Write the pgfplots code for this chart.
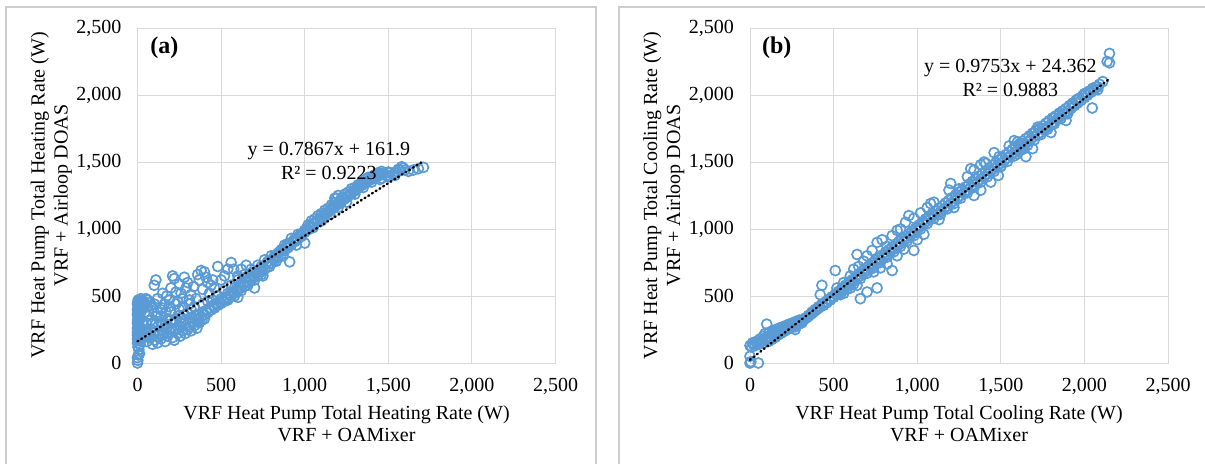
\documentclass[border=0pt]{standalone}
\usepackage{fontspec}
\setmainfont{Liberation Serif}
\usepackage{pgfplots}
\pgfplotsset{compat=1.18}
\definecolor{mk}{RGB}{91,155,213}
\definecolor{gr}{RGB}{217,217,217}
\definecolor{fr}{RGB}{205,205,205}
\pgfplotsset{myax/.style={
 scale only axis, width=209pt, height=167.5pt,
 xmin=0,xmax=2500,ymin=0,ymax=2500,
 xtick={0,500,1000,1500,2000,2500}, ytick={0,500,1000,1500,2000,2500},
 grid=major, major grid style={gr, line width=0.5pt},
 axis line style={gr, line width=0.5pt},
 major tick length=0pt,
 tick label style={font=\fontsize{10}{12}\selectfont},
 /pgf/number format/assume math mode=true,
 /pgf/number format/1000 sep={,},
 scaled ticks=false,
 xticklabel style={yshift=-4pt},
 yticklabel style={xshift=-4.5pt},
 clip=false, clip marker paths=true,
 xlabel style={at={(axis description cs:0.5,-0.182)},anchor=center,align=center,font=\fontsize{10}{11}\selectfont},
 ylabel style={at={(axis description cs:-0.206,0.5)},anchor=center,align=center,font=\fontsize{10}{11.5}\selectfont},
 mks/.style={only marks, mark=o, mark size=2.5pt, mk, line width=0.85pt},
 trend/.style={black, line width=1.2pt, line cap=round, dash pattern=on 0.5pt off 1.7pt},
}}
\begin{document}
\begin{tikzpicture}[x=1pt,y=1pt]
\useasboundingbox (0,0) rectangle (602.5,231.5);
\draw[fr, line width=0.9pt] (3,-5) -- (3,228) -- (298,228) -- (298,-5);
\draw[fr, line width=0.9pt] (309.5,-5) -- (309.5,228) -- (610,228);
\begin{axis}[myax, at={(68.75pt,50pt)}, anchor=south west,
 xlabel={VRF Heat Pump Total Heating Rate (W)\\VRF + OAMixer},
 ylabel={VRF Heat Pump Total Heating Rate (W)\\VRF + Airloop DOAS}]
\addplot[mks] coordinates {
(0,0)(2,20)(5,60)(8,100)(3,120)(12,70)(0,40)(15,140)
(0,180)(0,210)(2,240)(0,260)(4,280)(0,300)(1,320)(3,340)(0,360)(2,380)(0,400)(5,420)(0,440)(3,455)(8,450)(10,430)(6,390)(12,350)(9,310)(14,270)(7,230)(11,200)(16,400)(18,460)(20,380)(15,330)
(25,180)(40,200)(55,160)(70,190)(90,140)(100,170)(110,200)(120,150)(140,180)(150,210)(165,160)(180,200)(195,230)(210,190)(220,170)(240,220)(255,200)(270,240)(285,220)(300,250)(310,270)(320,240)(340,280)(355,260)(370,300)(385,320)(400,330)(60,230)(80,250)(130,240)(160,260)(200,260)(230,250)(260,270)(290,280)(330,300)(360,320)
(30,420)(45,380)(60,470)(75,450)(90,410)(100,580)(110,620)(120,480)(135,400)(150,520)(160,440)(175,500)(190,470)(200,560)(210,650)(220,630)(230,530)(240,460)(250,590)(260,520)(270,480)(280,640)(290,560)(300,600)(310,440)(320,510)(335,570)(350,480)(360,660)(370,620)(380,690)(390,550)(400,680)(410,640)(420,600)(430,520)(440,580)(450,620)(460,560)(480,720)(500,620)(520,650)(540,700)(560,750)(575,700)(600,650)(620,700)(650,730)(140,350)(170,380)(250,400)(280,360)(320,400)(340,420)(390,440)(420,460)(450,470)(180,330)(215,300)(260,340)(300,370)
(20,230)(40,240)(70,215)(100,225)(130,215)(50,300)(80,320)(110,290)(140,300)(170,290)(200,320)(230,310)(260,300)(290,320)(320,340)(350,360)(120,380)(150,410)(190,420)(230,440)(270,420)(310,470)(200,380)(240,350)(110,350)(60,350)(90,300)(150,290)(180,270)(210,240)(30,310)(0,150)(6,170)(4,200)(10,250)(0,230)(2,290)(8,330)(1,370)(6,410)(4,470)(12,440)(25,450)(35,460)(45,440)(60,420)(80,430)(100,440)(50,480)(20,480)
(350,350)(370,360)(390,380)(410,390)(430,410)(450,430)(470,440)(490,460)(510,470)(530,490)(550,510)(570,530)(590,550)(610,570)(630,590)(650,610)(670,630)(690,650)(710,670)(730,690)(750,710)(770,740)(790,760)(810,780)(830,800)(850,830)(870,850)(890,870)(910,890)(930,910)(950,930)(970,950)(990,970)
(360,330)(380,345)(400,360)(420,375)(440,395)(460,410)(480,430)(500,445)(520,460)(540,480)(560,500)(580,520)(600,540)(620,560)(640,575)(660,600)(680,620)(700,640)(720,655)(740,680)(760,700)(780,720)(800,745)(820,765)(840,790)(860,810)(880,840)(900,860)(920,880)(940,905)(960,925)(980,945)
(500,480)(540,520)(580,560)(620,600)(660,640)(700,680)(740,720)(780,760)(820,800)(860,845)(900,890)(940,925)(980,965)
(480,500)(520,540)(560,580)(600,620)(640,660)(680,700)(720,730)(760,770)(800,800)(840,820)(880,880)(920,930)(960,960)(1000,990)(460,420)(540,470)(580,500)(620,540)(660,580)(700,620)(740,660)(790,720)(830,760)(870,800)(910,755)(950,880)(1000,895)(600,490)(700,560)(750,650)
(1010,1000)(1030,1020)(1050,1040)(1070,1060)(1090,1080)(1110,1100)(1130,1120)(1150,1140)(1170,1160)(1190,1180)(1210,1200)(1230,1220)(1250,1240)(1270,1260)(1290,1280)(1310,1300)(1330,1320)(1350,1340)(1370,1350)(1390,1370)(1410,1380)(1430,1390)(1450,1400)
(1000,975)(1020,995)(1040,1020)(1060,1045)(1080,1065)(1100,1085)(1120,1105)(1140,1125)(1160,1150)(1180,1165)(1200,1185)(1220,1205)(1240,1225)(1260,1245)(1280,1265)(1300,1285)(1320,1305)(1340,1325)(1360,1340)(1380,1360)(1400,1370)(1420,1385)(1440,1400)
(1020,1030)(1060,1075)(1100,1115)(1140,1155)(1180,1195)(1220,1235)(1260,1275)(1300,1310)(1340,1350)(1380,1385)(1420,1405)(1460,1415)(1500,1425)(1540,1420)(1560,1445)
(1040,1060)(1080,1100)(1120,1140)(1160,1180)(1180,1230)(1200,1250)(1240,1260)(1280,1300)(1320,1330)(1360,1370)(1400,1390)(1440,1420)(1460,1430)(1050,1010)(1100,1060)(1150,1110)(1200,1160)(1250,1200)(1300,1260)(1350,1310)(1400,1350)(1450,1370)(1190,1230)
(1470,1410)(1490,1400)(1510,1420)(1530,1410)(1550,1430)(1570,1440)(1580,1465)(1590,1455)(1600,1440)(1620,1430)(1650,1440)(1680,1450)(1710,1460)(1460,1380)(1500,1390)(1540,1400)
};
\addplot[trend] coordinates {(0,161.9)(1710,1507.2)};
\node[font=\fontsize{12}{14}\bfseries\selectfont] at (axis cs:160,2350) {(a)};
\node[font=\fontsize{10}{12}\selectfont] at (axis cs:1145,1582) {y = 0.7867x + 161.9};
\node[font=\fontsize{10}{12}\selectfont] at (axis cs:1145,1418) {R² = 0.9223};
\end{axis}
\begin{axis}[myax, at={(375pt,50pt)}, anchor=south west,
 xlabel={VRF Heat Pump Total Cooling Rate (W)\\VRF + OAMixer},
 ylabel={VRF Heat Pump Total Cooling Rate (W)\\VRF + Airloop DOAS}]
\addplot[mks] coordinates {
(0,0)(5,10)(50,0)(0,50)(10,120)(20,140)(40,150)(60,160)(30,130)(80,150)(100,180)(90,220)(110,200)(120,190)(130,210)(100,290)(140,230)(150,200)(160,220)(170,240)(180,230)(190,250)(200,240)(210,260)(220,250)(230,270)(240,260)(250,280)(260,290)(270,270)(280,300)(290,290)(300,310)(310,300)(320,320)(330,330)(340,340)(350,350)(360,360)(370,370)(380,380)(390,390)(400,400)(410,410)(420,420)(270,250)(430,580)(420,510)(440,430)(460,450)(480,470)(500,490)(510,690)(520,510)(540,530)(560,550)(580,570)(600,590)(620,610)(640,630)(660,650)(680,670)(700,690)(720,710)(740,730)(760,750)(780,770)(800,790)(820,810)(840,830)(860,850)(880,870)(900,890)(920,910)(940,930)(960,950)(980,970)(1000,990)
(0,130)(15,150)(35,160)(55,140)(75,170)(95,190)(115,230)(135,240)(155,250)(175,260)(195,270)(215,280)(235,290)(255,300)(275,310)(295,320)(60,180)(80,200)
(110,160)(130,175)(150,190)(170,210)(190,225)(210,240)(230,255)(250,270)(270,285)(290,300)(310,315)(330,335)(350,355)(370,380)(390,400)(410,420)(430,440)(450,455)(470,475)(490,495)(510,515)(530,535)(550,560)(570,580)(590,600)(610,620)(630,640)(650,665)(670,685)(690,705)(710,725)(730,745)(750,765)(770,785)(790,805)(810,825)(830,845)(850,865)(870,885)(890,905)(910,925)(930,945)(950,965)(970,985)(990,1005)
(540,510)(580,550)(620,590)(660,630)(700,670)(740,710)(780,750)(820,790)(860,830)(900,870)(940,910)(980,950)(1020,1000)(1060,1040)(1100,1080)(1140,1110)(1180,1150)(1220,1190)(1260,1230)(1300,1270)(1340,1310)(1380,1350)(1420,1390)(1460,1430)(1500,1465)(1540,1505)(1580,1545)(1620,1590)(1660,1625)(1700,1665)(1740,1705)(1780,1745)(1820,1785)(1860,1825)(1900,1860)
(1010,1030)(1030,1050)(1050,1075)(1070,1095)(1090,1115)(1110,1135)(1130,1155)(1150,1175)(1170,1195)(1190,1215)(1210,1235)(1230,1255)(1250,1275)(1270,1295)(1290,1315)(1310,1335)(1330,1355)(1350,1375)(1370,1395)(1390,1415)(1410,1435)(1430,1455)(1450,1475)(1470,1495)(1490,1515)(1510,1535)(1530,1555)(1550,1575)(1570,1595)(1590,1615)(1610,1635)(1630,1655)(1650,1675)(1670,1695)(1690,1715)(1710,1735)(1730,1750)(1750,1770)(1770,1790)(1790,1810)(1810,1830)(1830,1845)(1850,1865)(1870,1880)(1890,1900)(1910,1920)(1930,1940)(1950,1960)(1970,1975)(1990,1995)(2010,2015)(2030,2030)(2050,2050)(2070,2060)(2090,2080)
(520,560)(560,600)(600,650)(620,700)(650,720)(680,760)(640,810)(700,800)(730,840)(760,900)(790,920)(820,870)(850,950)(880,990)(900,1000)(930,1050)(950,1100)(980,1080)(1020,1120)(1060,1160)(1080,1190)(1100,1200)
(560,520)(600,560)(640,580)(660,480)(700,530)(760,560)(740,680)(780,710)(820,740)(850,690)(880,800)(920,850)(980,840)(1000,920)(1040,960)
(1020,1020)(1040,1040)(1060,1060)(1080,1080)(1100,1100)(1120,1110)(1140,1130)(1160,1150)(1180,1170)(1200,1190)(1220,1210)(1240,1230)(1260,1250)(1280,1270)(1300,1290)(1320,1310)(1340,1330)(1360,1350)(1380,1370)(1400,1390)(1420,1410)(1440,1430)(1460,1450)(1480,1470)(1500,1490)
(1130,1070)(1190,1290)(1200,1340)(1220,1160)(1250,1300)(1300,1390)(1320,1450)(1340,1440)(1380,1480)(1400,1500)(1410,1490)(1340,1250)(1380,1290)(1440,1350)(1485,1400)(1460,1570)(1490,1540)(1500,1470)
(1520,1510)(1540,1530)(1560,1550)(1580,1570)(1600,1590)(1620,1610)(1640,1630)(1660,1650)(1680,1670)(1700,1690)(1720,1700)(1740,1720)(1760,1740)(1780,1760)(1800,1780)(1820,1800)(1840,1820)(1860,1840)(1880,1860)(1900,1880)(1920,1900)(1940,1920)(1960,1940)(1980,1960)(2000,1980)(2020,2000)(2040,2020)(2060,2040)(2080,2060)(2110,2100)
(1550,1620)(1580,1660)(1600,1650)(1620,1640)(1650,1540)(1690,1600)(1700,1720)(1720,1760)(1750,1750)(1800,1720)(1820,1830)(1850,1850)(1870,1880)(1890,1810)(1930,1930)(1960,1970)(2000,2010)(2047,1903)(2080,2040)(2150,2310)(2136,2250)(2150,2240)(1600,1560)(1640,1600)
};
\addplot[trend] coordinates {(0,24.362)(2150,2121.3)};
\node[font=\fontsize{12}{14}\bfseries\selectfont] at (axis cs:160,2350) {(b)};
\node[font=\fontsize{10}{12}\selectfont] at (axis cs:1557,2201) {y = 0.9753x + 24.362};
\node[font=\fontsize{10}{12}\selectfont] at (axis cs:1557,2037) {R² = 0.9883};
\end{axis}
\end{tikzpicture}
\end{document}
